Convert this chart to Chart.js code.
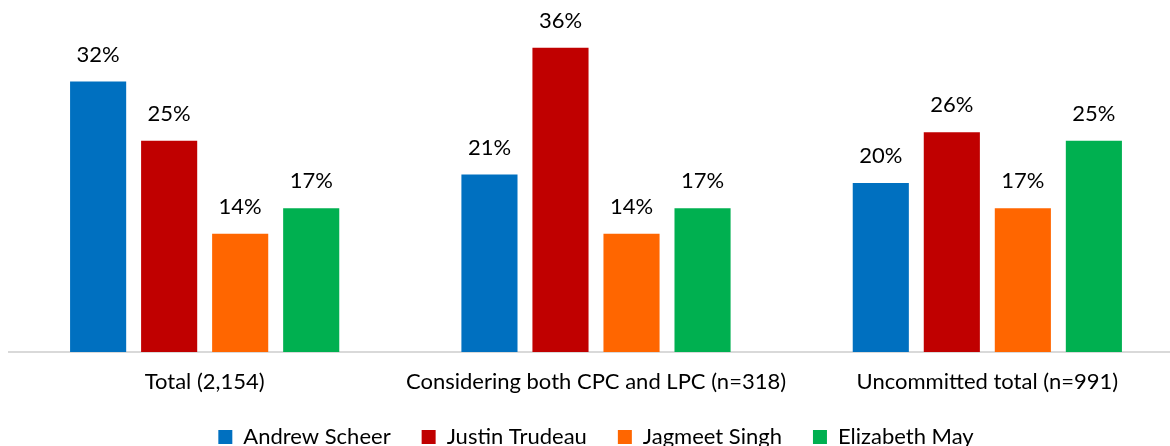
<!DOCTYPE html>
<html>
<head>
<meta charset="utf-8">
<script src="https://cdn.jsdelivr.net/npm/chart.js@4"></script>
<style>
  html, body { margin: 0; padding: 0; background: #fff; overflow: hidden; }
  #wrap { position: relative; width: 1183px; height: 458px; }
</style>
</head>
<body>
<div id="wrap"><canvas id="leaderChart"></canvas></div>
<script>
// Categories and series values (percent)
var groups = ['Total (2,154)', 'Considering both CPC and LPC (n=318)', 'Uncommitted total (n=991)'];
var scheer = [32, 21, 20];
var trudeau = [25, 36, 26];
var singh = [14, 14, 17];
var may = [17, 17, 25];

var fontFamily = 'Lato, "Open Sans", sans-serif';
var fontSize = 22;

// draws the value with a % sign above each bar
var valueLabels = {
  id: 'valueLabels',
  afterDatasetsDraw: function (chart) {
    var ctx = chart.ctx;
    ctx.save();
    ctx.font = fontSize + 'px ' + fontFamily;
    ctx.fillStyle = '#000';
    ctx.textAlign = 'center';
    ctx.textBaseline = 'middle';
    chart.data.datasets.forEach(function (ds, i) {
      chart.getDatasetMeta(i).data.forEach(function (bar, j) {
        ctx.fillText(ds.data[j] + '%', bar.x, bar.y - 27);
      });
    });
    ctx.restore();
  },
};

function series(label, data, color) {
  return {
    label: label,
    data: data,
    backgroundColor: color,
    borderWidth: 0,
    categoryPercentage: 0.726,
    barPercentage: 0.79,
  };
}

var leaderChart = new Chart(document.getElementById('leaderChart'), {
  type: 'bar',
  data: {
    labels: groups,
    datasets: [
      series('Andrew Scheer', scheer, '#0070C0'),
      series('Justin Trudeau', trudeau, '#C00000'),
      series('Jagmeet Singh', singh, '#FF6600'),
      series('Elizabeth May', may, '#00B050'),
    ],
  },
  plugins: [valueLabels],
  options: {
    responsive: true,
    maintainAspectRatio: false,
    animation: false,
    layout: { padding: { left: 9, right: 0, top: 14, bottom: 0 } },
    scales: {
      x: {
        grid: { display: false, drawTicks: false },
        border: { color: '#d9d9d9', width: 2 },
        ticks: { color: '#000', font: { family: fontFamily, size: fontSize }, padding: 17 },
        // keep the gap between the axis and the legend tight
        afterFit: function (scale) {
          scale.height = 43;
        },
      },
      y: {
        display: false,
        min: 0,
        max: 40,
      },
    },
    plugins: {
      tooltip: { enabled: false },
      legend: {
        position: 'bottom',
        labels: {
          color: '#000',
          font: { family: fontFamily, size: fontSize },
          boxWidth: 14,
          boxHeight: 14,
          padding: 31,
        },
      },
    },
  },
});
</script>
</body>
</html>
